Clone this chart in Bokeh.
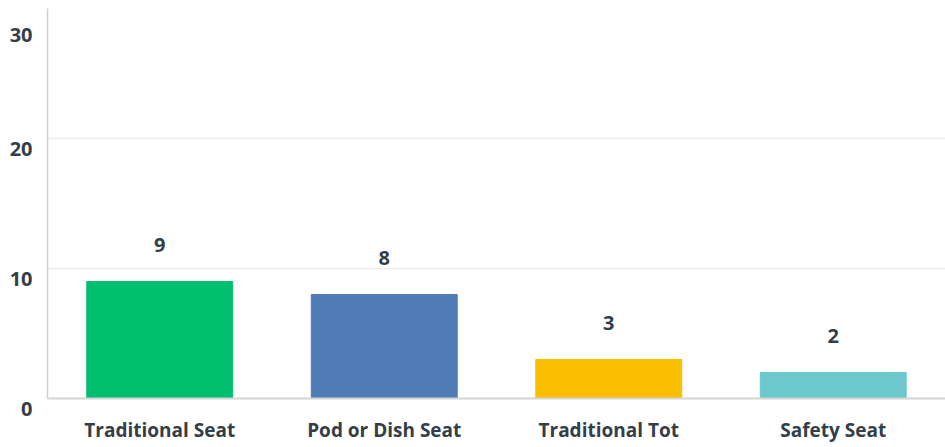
from bokeh.plotting import figure
from bokeh.models import ColumnDataSource, FixedTicker, Range1d
from bokeh.core.properties import value
from bokeh.embed import file_html
from bokeh.resources import INLINE

categories = ["Traditional Seat", "Pod or Dish Seat", "Traditional Tot", "Safety Seat"]
counts = [9, 8, 3, 2]
colors = ["#00BF6F", "#507CB6", "#F9BE00", "#6BC8CD"]
y_ticks = [0, 10, 20, 30]

FONT = "Open Sans"
TXT = "#333E48"

src = ColumnDataSource(dict(cat=categories, val=counts, color=colors,
                            label=[str(v) for v in counts]))

p = figure(x_range=categories, y_range=Range1d(0, 30), width=945, height=447,
           output_backend="svg", toolbar_location=None,
           min_border_left=47, min_border_right=0, min_border_top=8, min_border_bottom=49)
p.outline_line_color = None
p.background_fill_color = "white"

p.vbar(x="cat", top="val", width=0.65, color="color", source=src)
p.text(x="cat", y="val", text="label", source=src, y_offset=-37,
       text_align="center", text_baseline="middle",
       text_font=value(FONT), text_font_style="bold", text_font_size="20px",
       text_color=TXT)

p.yaxis.ticker = FixedTicker(ticks=y_ticks)
# leading newline drops each label slightly below its tick, as in the reference
p.yaxis.major_label_overrides = {t: "\n" + str(t) for t in y_ticks}
p.ygrid.ticker = FixedTicker(ticks=[10, 20])
p.ygrid.grid_line_color = "#EBEBEB"
p.ygrid.grid_line_width = 1.5
p.xgrid.grid_line_color = None

for ax in (p.xaxis, p.yaxis):
    ax.major_tick_line_color = None
    ax.minor_tick_line_color = None
    ax.major_label_text_font = FONT
    ax.major_label_text_font_style = "bold"
    ax.major_label_text_color = TXT

p.xaxis.major_label_text_font_size = "19px"
p.yaxis.major_label_text_font_size = "20px"
p.yaxis.major_label_text_line_height = 0.75
p.yaxis.major_label_standoff = 9
p.yaxis.axis_line_color = "#D0D0D0"
p.yaxis.axis_line_width = 1.5
p.xaxis.axis_line_color = "#D4D4D4"
p.xaxis.axis_line_width = 2
p.xaxis.major_label_standoff = 12

open("out.html", "w").write(file_html(p, INLINE))
